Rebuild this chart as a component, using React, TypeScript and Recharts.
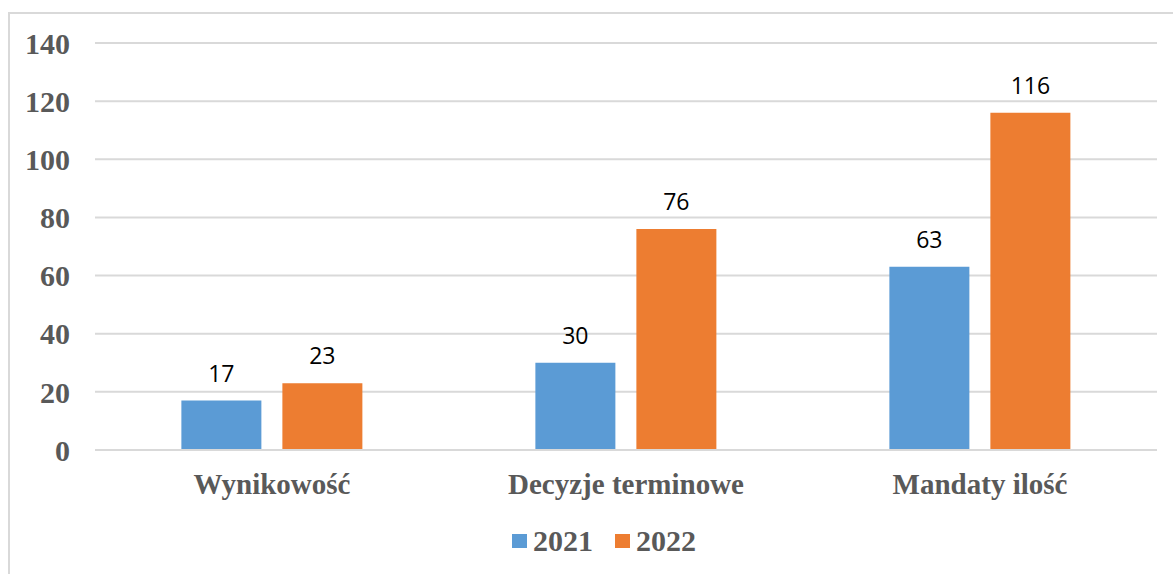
import React from 'react';
import { BarChart, Bar, XAxis, YAxis, CartesianGrid, Legend, LabelList } from 'recharts';

const categories = ['Wynikowość', 'Decyzje terminowe', 'Mandaty ilość'];
const values2021 = [17, 30, 63];
const values2022 = [23, 76, 116];
const yTicks = [0, 20, 40, 60, 80, 100, 120, 140];

const data = categories.map((name, i) => ({ name, y2021: values2021[i], y2022: values2022[i] }));

const GRAY = '#595959';
const SERIF = '"Liberation Serif", "Times New Roman", serif';
const SANS = '"Open Sans", "Liberation Sans", sans-serif';

const LegendContent = (props: any) => {
  const { payload } = props;
  return (
    <div style={{ display: 'flex', alignItems: 'center', height: 30 }}>
      {(payload || []).map((entry: any, i: number) => (
        <div key={i} style={{ display: 'flex', alignItems: 'center', marginRight: i === 0 ? 22 : 0 }}>
          <div style={{ width: 15, height: 14, background: entry.color, marginRight: 6 }} />
          <span style={{ fontFamily: SERIF, fontWeight: 'bold', fontSize: 30, color: GRAY, lineHeight: '30px' }}>
            {entry.value}
          </span>
        </div>
      ))}
    </div>
  );
};

export default function App() {
  return (
    <div style={{ position: 'fixed', left: 0, top: 0, width: 1173, height: 574, background: '#fff' }}>
      <div
        style={{
          position: 'absolute',
          left: 8,
          top: 12,
          width: 1200,
          height: 600,
          border: '2px solid #d9d9d9',
          boxSizing: 'border-box',
        }}
      />
      <div style={{ position: 'absolute', left: 0, top: 0 }}>
        <BarChart
          width={1173}
          height={574}
          data={data}
          margin={{ top: 43, right: 16, bottom: 64, left: 0 }}
          barCategoryGap="24.4%"
          barGap={21}
        >
          <CartesianGrid vertical={false} stroke="#d9d9d9" strokeWidth={2} />
          <XAxis
            dataKey="name"
            axisLine={{ stroke: '#d9d9d9', strokeWidth: 2 }}
            tickLine={false}
            tickMargin={17}
            tick={{ fill: GRAY, fontFamily: SERIF, fontWeight: 'bold', fontSize: 29 }}
          />
          <YAxis
            width={95}
            domain={[0, 140]}
            ticks={yTicks}
            axisLine={false}
            tickLine={false}
            tickMargin={19}
            tick={{ fill: GRAY, fontFamily: SERIF, fontWeight: 'bold', fontSize: 30 }}
          />
          <Legend
            content={<LegendContent />}
            wrapperStyle={{ left: 512, top: 526, width: 'auto' }}
          />
          <Bar dataKey="y2021" name="2021" fill="#5B9BD5" isAnimationActive={false}>
            <LabelList dataKey="y2021" position="top" offset={19} fill="#000" fontFamily={SANS} fontSize={23} />
          </Bar>
          <Bar dataKey="y2022" name="2022" fill="#ED7D31" isAnimationActive={false}>
            <LabelList dataKey="y2022" position="top" offset={19} fill="#000" fontFamily={SANS} fontSize={23} />
          </Bar>
        </BarChart>
      </div>
    </div>
  );
}
